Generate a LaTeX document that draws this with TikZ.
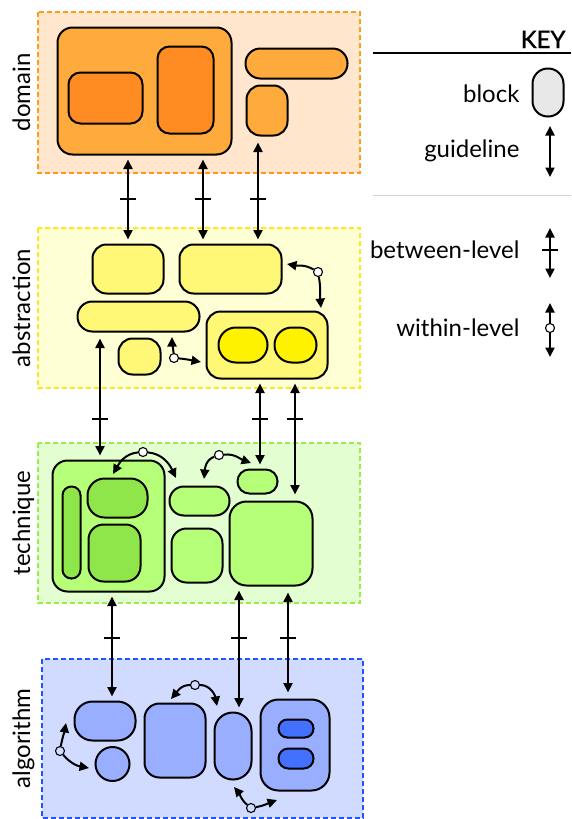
\documentclass[tikz,border=0pt]{standalone}
\usepackage{fontspec}
\setmainfont{Lato}
\newfontfamily\keyfont{Lato}[FakeBold=1.2]
\usetikzlibrary{arrows.meta}
\definecolor{dombg}{HTML}{FFE6CC}
\definecolor{domln}{HTML}{FF9A1A}
\definecolor{domb}{HTML}{FFAA3C}
\definecolor{domc}{HTML}{FF8C22}
\definecolor{absbg}{HTML}{FFFFD6}
\definecolor{absln}{HTML}{F7EA1E}
\definecolor{absb}{HTML}{FFF876}
\definecolor{absc}{HTML}{FFF200}
\definecolor{tecbg}{HTML}{E3FFD1}
\definecolor{tecln}{HTML}{99EE44}
\definecolor{tecb}{HTML}{B6FF78}
\definecolor{tecc}{HTML}{8FE64A}
\definecolor{algbg}{HTML}{D1DBFF}
\definecolor{algln}{HTML}{2255FF}
\definecolor{algb}{HTML}{99AEFF}
\definecolor{algc}{HTML}{4470FF}
\definecolor{keyb}{HTML}{E8E8E8}
\definecolor{keyln}{HTML}{D4D4D4}
\newcommand\mkblk[7]{\node[blk,fill=#2,minimum width=#5pt,minimum height=#6pt,rounded corners=#7pt] (#1) at (#3,-#4) {};}
\begin{document}
\begin{tikzpicture}[x=1pt,y=1pt,
  blk/.style={draw=black, line width=2pt, rectangle, inner sep=0pt},
  lvl/.style={line width=1.6pt, dash pattern=on 5pt off 3pt},
  bt/.style={line width=2pt, {Triangle[length=9.5pt,width=9pt]}-{Triangle[length=9.5pt,width=9pt]}, shorten <=4pt, shorten >=4pt},
  kt/.style={line width=2pt, {Triangle[length=9.5pt,width=9pt]}-{Triangle[length=9.5pt,width=9pt]}},
  wl/.style={line width=2pt, -{Triangle[length=9.5pt,width=9pt]}},
  wc/.style={circle, draw=black, line width=1.1pt, minimum size=9pt, inner sep=0pt},
  lbl/.style={rotate=90, anchor=base, font=\fontsize{24}{28}\selectfont},
  ktext/.style={anchor=base east, font=\fontsize{24}{28}\selectfont},
  tk/.pic={\draw[line width=1.1pt] (-8,0) -- (8,0);}
]
\useasboundingbox (0,0) rectangle (571,-819);

% level boxes
\path[lvl, fill=dombg, draw=domln] (38,-12) rectangle (360,-173);
\path[lvl, fill=absbg, draw=absln] (38,-228) rectangle (360,-388);
\path[lvl, fill=tecbg, draw=tecln] (38,-443) rectangle (360,-603);
\path[lvl, fill=algbg, draw=algln] (42,-659) rectangle (363,-818);

% level labels
\node[lbl] (ldom) at (30,-92.5) {domain};
\node[lbl] (labs) at (30,-308) {abstraction};
\node[lbl] (ltec) at (30,-523) {technique};
\node[lbl] (lalg) at (30,-738.5) {algorithm};

% domain blocks
\mkblk{D1}{domb}{144.5}{91}{174}{127}{15}
\mkblk{D1a}{domc}{105.5}{98}{74}{51}{12}
\mkblk{D1b}{domc}{185.5}{90}{56}{87}{12}
\mkblk{D2}{domb}{296.5}{63.5}{102}{30}{14.8}
\mkblk{D3}{domb}{267}{110.5}{41}{50}{14}

% abstraction blocks
\mkblk{A1}{absb}{128}{269}{71}{49}{14}
\mkblk{A2}{absb}{230.5}{269}{102}{49}{14}
\mkblk{A3}{absb}{138.5}{316.5}{122}{30}{14.8}
\mkblk{A4}{absb}{139.5}{356.5}{42}{36}{14}
\mkblk{A5}{absb}{267}{345}{121}{67}{14}
\mkblk{A5a}{absc}{243}{345}{49}{35}{17.3}
\mkblk{A5b}{absc}{295.5}{345}{42}{35}{17.3}

% technique blocks
\mkblk{T1}{tecb}{108.5}{526}{112}{131}{15}
\mkblk{T1a}{tecc}{71.5}{532.5}{18}{92}{8.8}
\mkblk{T1b}{tecc}{117.5}{498}{60}{39}{17}
\mkblk{T1c}{tecc}{114.5}{553}{52}{57}{15}
\mkblk{T2}{tecb}{199.5}{501}{60}{29}{14.3}
\mkblk{T3}{tecb}{197}{555.5}{51}{54}{15}
\mkblk{T4}{tecb}{257.5}{481.5}{40}{24}{11.8}
\mkblk{T5}{tecb}{271}{543.5}{83}{84}{17}

% algorithm blocks
\mkblk{G1}{algb}{105}{721}{61}{39}{18}
\node[blk, circle, fill=algb, minimum size=34pt] (G2) at (112.5,-764) {};
\mkblk{G3}{algb}{175}{740.5}{61}{74}{15}
\mkblk{G4}{algb}{233}{746}{37}{67}{18.3}
\mkblk{G5}{algb}{295}{745}{69}{91}{18}
\mkblk{G5a}{algc}{296}{728.5}{35}{18}{8.8}
\mkblk{G5b}{algc}{296}{758.5}{35}{20}{9.8}

% lanes and tick rows
\coordinate (lx2) at (203,0);
\coordinate (lx3) at (258,0);
\coordinate (lx4) at (100,0);
\coordinate (lx5) at (260,0);
\coordinate (lx6) at (295,0);
\coordinate (lx7) at (112,0);
\coordinate (lx8) at (239,0);
\coordinate (lx9) at (288,0);
\coordinate (ty1) at (0,-199);
\coordinate (ty2) at (0,-419);
\coordinate (ty3) at (0,-638);

% between-level guidelines
\draw[bt] (A1.north |- D1.south) -- (A1.north);
\draw[bt] (lx2 |- D1.south) -- (lx2 |- A2.north);
\draw[bt, shorten <=6pt] (lx3 |- D3.south) -- (lx3 |- A2.north);
\pic at (A1.north |- ty1) {tk};
\pic at (lx2 |- ty1) {tk};
\pic at (lx3 |- ty1) {tk};

\draw[bt, shorten <=6pt] (lx4 |- A3.south) -- (lx4 |- T1.north);
\draw[bt] (lx5 |- A5.south) -- (lx5 |- T4.north);
\draw[bt, shorten >=6pt] (lx6 |- A5.south) -- (lx6 |- T5.north);
\pic at (lx4 |- ty2) {tk};
\pic at (lx5 |- ty2) {tk};
\pic at (lx6 |- ty2) {tk};

\draw[bt] (lx7 |- T1.south) -- (lx7 |- G1.north);
\draw[bt] (lx8 |- T5.south) -- (lx8 |- G4.north);
\draw[bt, shorten <=6pt, shorten >=6pt] (lx9 |- T5.south) -- (lx9 |- G5.north);
\pic at (lx7 |- ty3) {tk};
\pic at (lx8 |- ty3) {tk};
\pic at (lx9 |- ty3) {tk};

% within-level guidelines
\node[wc, fill=white] (W1) at (318,-272) {};
\coordinate (W1a) at (287,-264);
\coordinate (W1b) at (321,-308);
\draw[wl] (W1) to[out=150,in=-10] (W1a);
\draw[wl] (W1) to[out=-80,in=95] (W1b);

\node[wc, fill=white] (W2) at (174,-358) {};
\coordinate (W2a) at (172,-337);
\coordinate (W2b) at (201,-362);
\draw[wl] (W2) to[out=95,in=-90] (W2a);
\draw[wl] (W2) to[out=-5,in=170] (W2b);

\node[wc, fill=white] (W3) at (143,-452) {};
\coordinate (W3a) at (113,-474);
\coordinate (W3b) at (176,-478);
\draw[wl] (W3) to[out=185,in=60] (W3a);
\draw[wl] (W3) to[out=-5,in=115] (W3b);

\node[wc, fill=white] (W4) at (219,-455) {};
\coordinate (W4a) at (204,-479);
\coordinate (W4b) at (251,-463);
\draw[wl] (W4) to[out=200,in=85] (W4a);
\draw[wl] (W4) to[out=5,in=160] (W4b);

\node[wc, fill=algbg] (W5) at (60,-751) {};
\coordinate (W5a) at (66,-723);
\coordinate (W5b) at (89,-768);
\draw[wl] (W5) to[out=80,in=-100] (W5a);
\draw[wl] (W5) to[out=-50,in=170] (W5b);

\node[wc, fill=algbg] (W6) at (195,-685) {};
\coordinate (W6a) at (171,-699);
\coordinate (W6b) at (217,-706);
\draw[wl] (W6) to[out=180,in=50] (W6a);
\draw[wl] (W6) to[out=0,in=100] (W6b);

\node[wc, fill=algbg] (W7) at (251,-808) {};
\coordinate (W7a) at (234,-787);
\coordinate (W7b) at (277,-800);
\draw[wl] (W7) to[out=140,in=-50] (W7a);
\draw[wl] (W7) to[out=10,in=200] (W7b);

% key
\node[anchor=base east, font=\fontsize{24}{28}\keyfont] (kkey) at (569,-48) {KEY};
\coordinate (kl1) at (373,-53);
\coordinate (kr1) at (571,-53);
\draw[line width=1.2pt] (kl1) -- (kr1);
\node[ktext] (kblock) at (523,-102) {block};
\mkblk{KB}{keyb}{548}{92.5}{31}{48}{15.3}
\node[ktext] (kguide) at (523,-157) {guideline};
\coordinate (kg1) at (550,-126);
\coordinate (kg2) at (550,-177);
\draw[kt] (kg1) -- (kg2);
\coordinate (kl2) at (373,-195);
\coordinate (kr2) at (571,-195);
\draw[line width=1pt, keyln] (kl2) -- (kr2);
\node[ktext] (kbetw) at (523,-258) {between-level};
\coordinate (kb1) at (550,-228);
\coordinate (kb2) at (550,-278);
\draw[kt] (kb1) -- (kb2);
\pic at (550,-250) {tk};
\node[ktext] (kwith) at (523,-336) {within-level};
\node[wc, fill=white] (kwc) at (550,-328) {};
\coordinate (kw1) at (550,-303);
\coordinate (kw2) at (550,-357);
\draw[wl] (kwc) -- (kw1);
\draw[wl] (kwc) -- (kw2);
\end{tikzpicture}
\end{document}
